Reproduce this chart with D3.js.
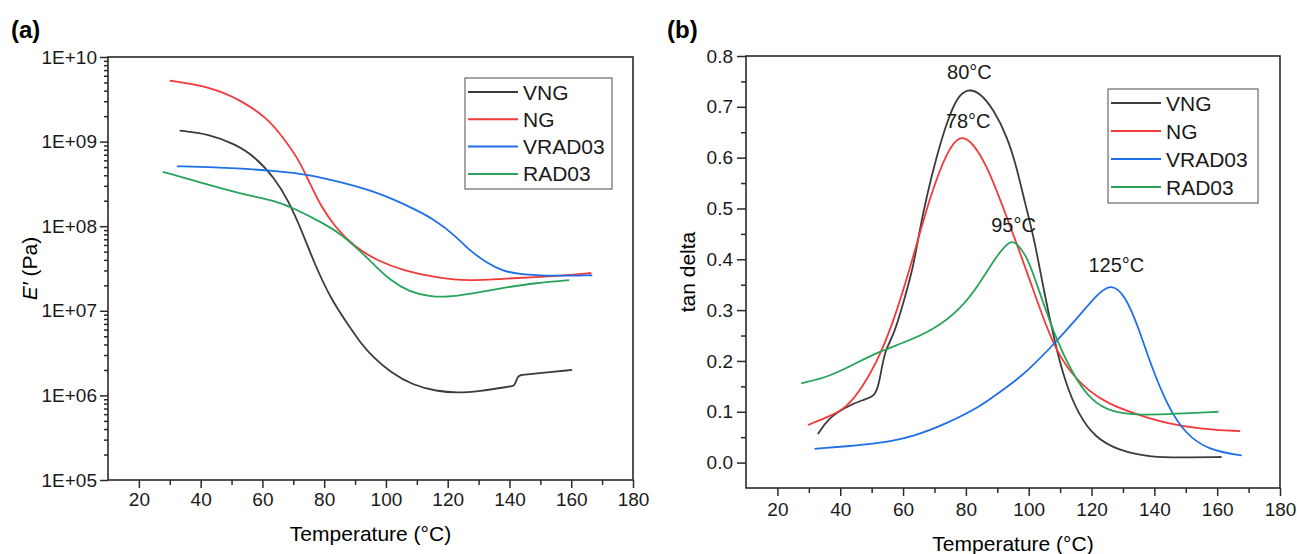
<!DOCTYPE html>
<html>
<head>
<meta charset="utf-8">
<script src="https://cdn.jsdelivr.net/npm/d3@7"></script>
<style>
  body { margin: 0; background: #fff; }
  svg { display: block; font-family: "Liberation Sans", Arial, sans-serif; }
</style>
</head>
<body>
<div id="chart"></div>
<script>
// ---- data ----
// panel (a): storage modulus E' (Pa) vs temperature (°C)
const seriesNames = ["VNG", "NG", "VRAD03", "RAD03"];
const seriesColors = ["#3c3c3c", "#f23a3a", "#1f6fe6", "#27a35a"];

const modVNG = [[33.2,1.35e9],[42.6,1.23e9],[51.3,9.3e8],[57.7,6.6e8],[64.2,3.6e8],[68.4,2.0e8],
  [72.6,9.1e7],[77,3.5e7],[82.3,1.35e7],[87.7,6.9e6],[91.9,4.1e6],[96,2.8e6],
  [101.3,1.9e6],[108.7,1.32e6],[116.5,1.12e6],[122.9,1.07e6],[130.3,1.12e6],[139.3,1.26e6],
  [141,1.29e6],[141.6,1.3e6],[142.8,1.72e6],[143.5,1.74e6],[148.7,1.82e6],[160.3,2.0e6]];
const modNG = [[30,5.25e9],[42.9,4.47e9],[53.2,3.09e9],[62,1.82e9],[66,1.2e9],[71.6,6.3e8],
  [74.8,3.55e8],[79,1.7e8],[83.5,9.8e7],[90,5.6e7],[97.4,3.9e7],[105.5,3.0e7],[116.5,2.45e7],
  [127,2.24e7],[137.7,2.4e7],[148.7,2.5e7],[159,2.63e7],[166.5,2.8e7]];
const modVRAD03 = [[32.3,5.1e8],[42.6,5.0e8],[53.2,4.8e8],[64.2,4.5e8],[74.8,4.1e8],[85.5,3.3e8],
  [96,2.6e8],[105.5,1.86e8],[116.5,1.17e8],[122.9,7.4e7],[127,5.2e7],[132.6,3.7e7],[137.7,2.95e7],
  [143.2,2.7e7],[153.9,2.57e7],[166.8,2.63e7]];
const modRAD03 = [[27.7,4.4e8],[42.6,3.1e8],[53.2,2.4e8],[64.2,2.0e8],[70.6,1.6e8],[79,1.12e8],
  [85.5,8.1e7],[91.9,5.0e7],[96,3.55e7],[101.3,2.3e7],[107.7,1.66e7],[114.2,1.48e7],[119.7,1.45e7],
  [127,1.58e7],[137.7,1.86e7],[148.7,2.14e7],[159.3,2.3e7]];

// panel (b): tan delta vs temperature (°C)
const tanVNG = [[32.9,0.056],[36.1,0.087],[41.9,0.11],[47.3,0.124],[51.3,0.130],[52.6,0.163],
  [54.2,0.222],[56.9,0.248],[60.1,0.314],[63.3,0.386],[64.9,0.445],[67.5,0.524],[70.7,0.603],
  [73.9,0.669],[77.1,0.718],[80.5,0.736],[84.5,0.728],[88.8,0.695],[93.1,0.642],[96.1,0.583],
  [98.6,0.516],[101.8,0.44],[105,0.332],[108.2,0.24],[111.4,0.162],[115.7,0.096],[121,0.05],
  [128.4,0.024],[139.1,0.01],[149.8,0.01],[161.4,0.011]];
const tanNG = [[29.7,0.074],[36.6,0.091],[41.9,0.107],[47.3,0.15],[52.6,0.209],[57.9,0.294],
  [63.3,0.406],[68.6,0.524],[73.9,0.612],[78.2,0.647],[82.4,0.628],[86.7,0.583],[90.9,0.518],
  [96.1,0.432],[100,0.365],[104,0.295],[108.2,0.227],[113.5,0.175],[118.9,0.142],[125.2,0.116],
  [133.8,0.096],[144.4,0.076],[155,0.066],[167.3,0.062]];
const tanVRAD03 = [[31.8,0.027],[41.9,0.032],[52.6,0.038],[63.3,0.051],[73.9,0.077],[84.5,0.11],
  [91.1,0.14],[96.1,0.163],[99.7,0.181],[108.2,0.234],[115.7,0.286],[122.1,0.333],[126.3,0.352],
  [130.6,0.33],[134.9,0.267],[139.1,0.188],[144.4,0.109],[149.8,0.057],[157.3,0.024],[167.8,0.014]];
const tanRAD03 = [[27.6,0.156],[36.6,0.169],[45.1,0.196],[52.6,0.219],[61.1,0.238],[69.6,0.261],
  [78.2,0.301],[84.5,0.353],[89.9,0.408],[94.2,0.438],[96.1,0.432],[99.7,0.405],[103.9,0.326],
  [109.3,0.234],[114.6,0.168],[119.9,0.122],[126.3,0.099],[135.9,0.093],[146.5,0.096],[160.4,0.1]];

// peak annotations in (b)
const peakLabels = ["80°C", "78°C", "95°C", "125°C"];
const peakTemps  = [80.5, 78.2, 94.2, 126.3];
const peakVals   = [0.731, 0.642, 0.432, 0.345];

// ticks
const tempTicks  = [20, 40, 60, 80, 100, 120, 140, 160, 180];
const tempMinor  = [30, 50, 70, 90, 110, 130, 150, 170];
const modTicks   = [1e5, 1e6, 1e7, 1e8, 1e9, 1e10];
const tanTicks   = [0, 0.1, 0.2, 0.3, 0.4, 0.5, 0.6, 0.7, 0.8];
const tanMinor   = [0.05, 0.15, 0.25, 0.35, 0.45, 0.55, 0.65, 0.75];

function main() {
  const W = 1297, H = 554;
  const AXIS = "#2a2a2a";
  const FONT = "\"Liberation Sans\", Arial, sans-serif";

  const svg = d3.select("#chart").append("svg")
    .attr("width", W).attr("height", H);

  // plot frames (pixel boxes of each panel)
  const boxA = {left: 108, right: 633, top: 57, bottom: 480};
  const boxB = {left: 746, right: 1280, top: 56, bottom: 488};

  const xA = d3.scaleLinear().domain([10, 180]).range([boxA.left, boxA.right]);
  const yA = d3.scaleLog().domain([1e5, 1e10]).range([boxA.bottom, boxA.top]);
  const xB = d3.scaleLinear().domain([10, 180]).range([boxB.left, boxB.right]);
  const yB = d3.scaleLinear().domain([-0.05, 0.8]).range([boxB.bottom, boxB.top]);

  // log minor ticks 2..9 per decade
  var modMinor = [];
  for (var e = 5; e < 10; e++) {
    for (var k = 2; k <= 9; k++) modMinor.push(k * Math.pow(10, e));
  }

  function styleAxis(g, size) {
    g.select(".domain").remove();
    g.selectAll(".tick line").attr("stroke", AXIS).attr("stroke-width", 1.5);
    g.selectAll(".tick text")
      .attr("fill", "#1a1a1a")
      .style("font-family", FONT)
      .style("font-size", size + "px");
  }

  function frame(box) {
    svg.append("rect")
      .attr("x", box.left).attr("y", box.top)
      .attr("width", box.right - box.left)
      .attr("height", box.bottom - box.top)
      .attr("fill", "none")
      .attr("stroke", AXIS)
      .attr("stroke-width", 1.6);
  }

  // ---------- panel (a) ----------
  svg.append("g").attr("transform", "translate(0," + boxA.bottom + ")")
    .call(d3.axisBottom(xA).tickValues(tempMinor).tickSize(5).tickFormat(""))
    .call(g => styleAxis(g, 19));
  svg.append("g").attr("transform", "translate(0," + boxA.bottom + ")")
    .call(d3.axisBottom(xA).tickValues(tempTicks).tickSize(8).tickPadding(5))
    .call(g => styleAxis(g, 19));

  svg.append("g").attr("transform", "translate(" + boxA.left + ",0)")
    .call(d3.axisLeft(yA).tickValues(modMinor).tickSize(4).tickFormat(""))
    .call(g => styleAxis(g, 19));
  svg.append("g").attr("transform", "translate(" + boxA.left + ",0)")
    .call(d3.axisLeft(yA).tickValues(modTicks).tickSize(8).tickPadding(3)
      .tickFormat(d => "1E+" + d3.format("02d")(Math.round(Math.log10(d)))))
    .call(g => styleAxis(g, 19));

  const lineA = d3.line()
    .x(d => xA(d[0])).y(d => yA(d[1]))
    .curve(d3.curveBasis);
  const dataA = [modVNG, modNG, modVRAD03, modRAD03];
  svg.append("g").selectAll("path")
    .data(dataA).enter().append("path")
    .attr("d", lineA)
    .attr("fill", "none")
    .attr("stroke", (d, i) => seriesColors[i])
    .attr("stroke-width", 1.8);

  frame(boxA);

  // ---------- panel (b) ----------
  svg.append("g").attr("transform", "translate(0," + boxB.bottom + ")")
    .call(d3.axisBottom(xB).tickValues(tempMinor).tickSize(5).tickFormat(""))
    .call(g => styleAxis(g, 19));
  svg.append("g").attr("transform", "translate(0," + boxB.bottom + ")")
    .call(d3.axisBottom(xB).tickValues(tempTicks).tickSize(8).tickPadding(7))
    .call(g => styleAxis(g, 19));

  svg.append("g").attr("transform", "translate(" + boxB.left + ",0)")
    .call(d3.axisLeft(yB).tickValues(tanMinor).tickSize(5).tickFormat(""))
    .call(g => styleAxis(g, 19));
  svg.append("g").attr("transform", "translate(" + boxB.left + ",0)")
    .call(d3.axisLeft(yB).tickValues(tanTicks).tickSize(9).tickPadding(4).tickFormat(d3.format(".1f")))
    .call(g => styleAxis(g, 19));

  const lineB = d3.line()
    .x(d => xB(d[0])).y(d => yB(d[1]))
    .curve(d3.curveBasis);
  const dataB = [tanVNG, tanNG, tanVRAD03, tanRAD03];
  svg.append("g").selectAll("path")
    .data(dataB).enter().append("path")
    .attr("d", lineB)
    .attr("fill", "none")
    .attr("stroke", (d, i) => seriesColors[i])
    .attr("stroke-width", 1.8);

  frame(boxB);

  // peak labels, nudged a bit above each peak
  const peakDx = [2, 8, 3, 5];
  const peakDy = [-12, -8, -11, -15];
  svg.append("g").selectAll("text")
    .data(peakLabels).enter().append("text")
    .attr("x", (d, i) => xB(peakTemps[i]) + peakDx[i])
    .attr("y", (d, i) => yB(peakVals[i]) + peakDy[i])
    .attr("text-anchor", "middle")
    .attr("fill", "#1a1a1a")
    .style("font-size", "20px")
    .text(d => d);

  // ---------- legends ----------
  function legend(x, y, w, h, step) {
    const g = svg.append("g").attr("transform", "translate(" + x + "," + y + ")");
    g.append("rect").attr("width", w).attr("height", h)
      .attr("fill", "#fff").attr("stroke", "#6a6a6a").attr("stroke-width", 1.2);
    seriesNames.forEach(function(name, i) {
      const cy = 14 + i * step;
      g.append("line")
        .attr("x1", 3).attr("x2", 53).attr("y1", cy).attr("y2", cy)
        .attr("stroke", seriesColors[i]).attr("stroke-width", 2);
      g.append("text")
        .attr("x", 58).attr("y", cy).attr("dy", "0.36em")
        .attr("fill", "#1a1a1a")
        .style("font-size", "21px")
        .text(name);
    });
  }
  legend(465, 78, 147, 111, 27.3);
  legend(1108, 89, 150, 114, 28);

  // ---------- titles ----------
  svg.append("text").attr("x", 11).attr("y", 38)
    .style("font-size", "24px").style("font-weight", "bold").text("(a)");
  svg.append("text").attr("x", 667).attr("y", 38)
    .style("font-size", "24px").style("font-weight", "bold").text("(b)");

  svg.append("text")
    .attr("x", (boxA.left + boxA.right) / 2).attr("y", 541)
    .attr("text-anchor", "middle").style("font-size", "21px")
    .text("Temperature (°C)");
  svg.append("text")
    .attr("x", (boxB.left + boxB.right) / 2).attr("y", 551)
    .attr("text-anchor", "middle").style("font-size", "21px")
    .text("Temperature (°C)");

  const yTitleA = svg.append("text")
    .attr("transform", "translate(37," + (boxA.top + boxA.bottom) / 2 + ") rotate(-90)")
    .attr("text-anchor", "middle").style("font-size", "21px");
  yTitleA.append("tspan").style("font-style", "italic").text("E′");
  yTitleA.append("tspan").text(" (Pa)");

  svg.append("text")
    .attr("transform", "translate(695," + (boxB.top + boxB.bottom) / 2 + ") rotate(-90)")
    .attr("text-anchor", "middle").style("font-size", "21px")
    .text("tan delta");
}

function whenDocumentLoaded(action) {
  if (document.readyState === "loading") {
    document.addEventListener("DOMContentLoaded", action);
  } else {
    action();
  }
}

whenDocumentLoaded(() => {
  main();
});
</script>
</body>
</html>
